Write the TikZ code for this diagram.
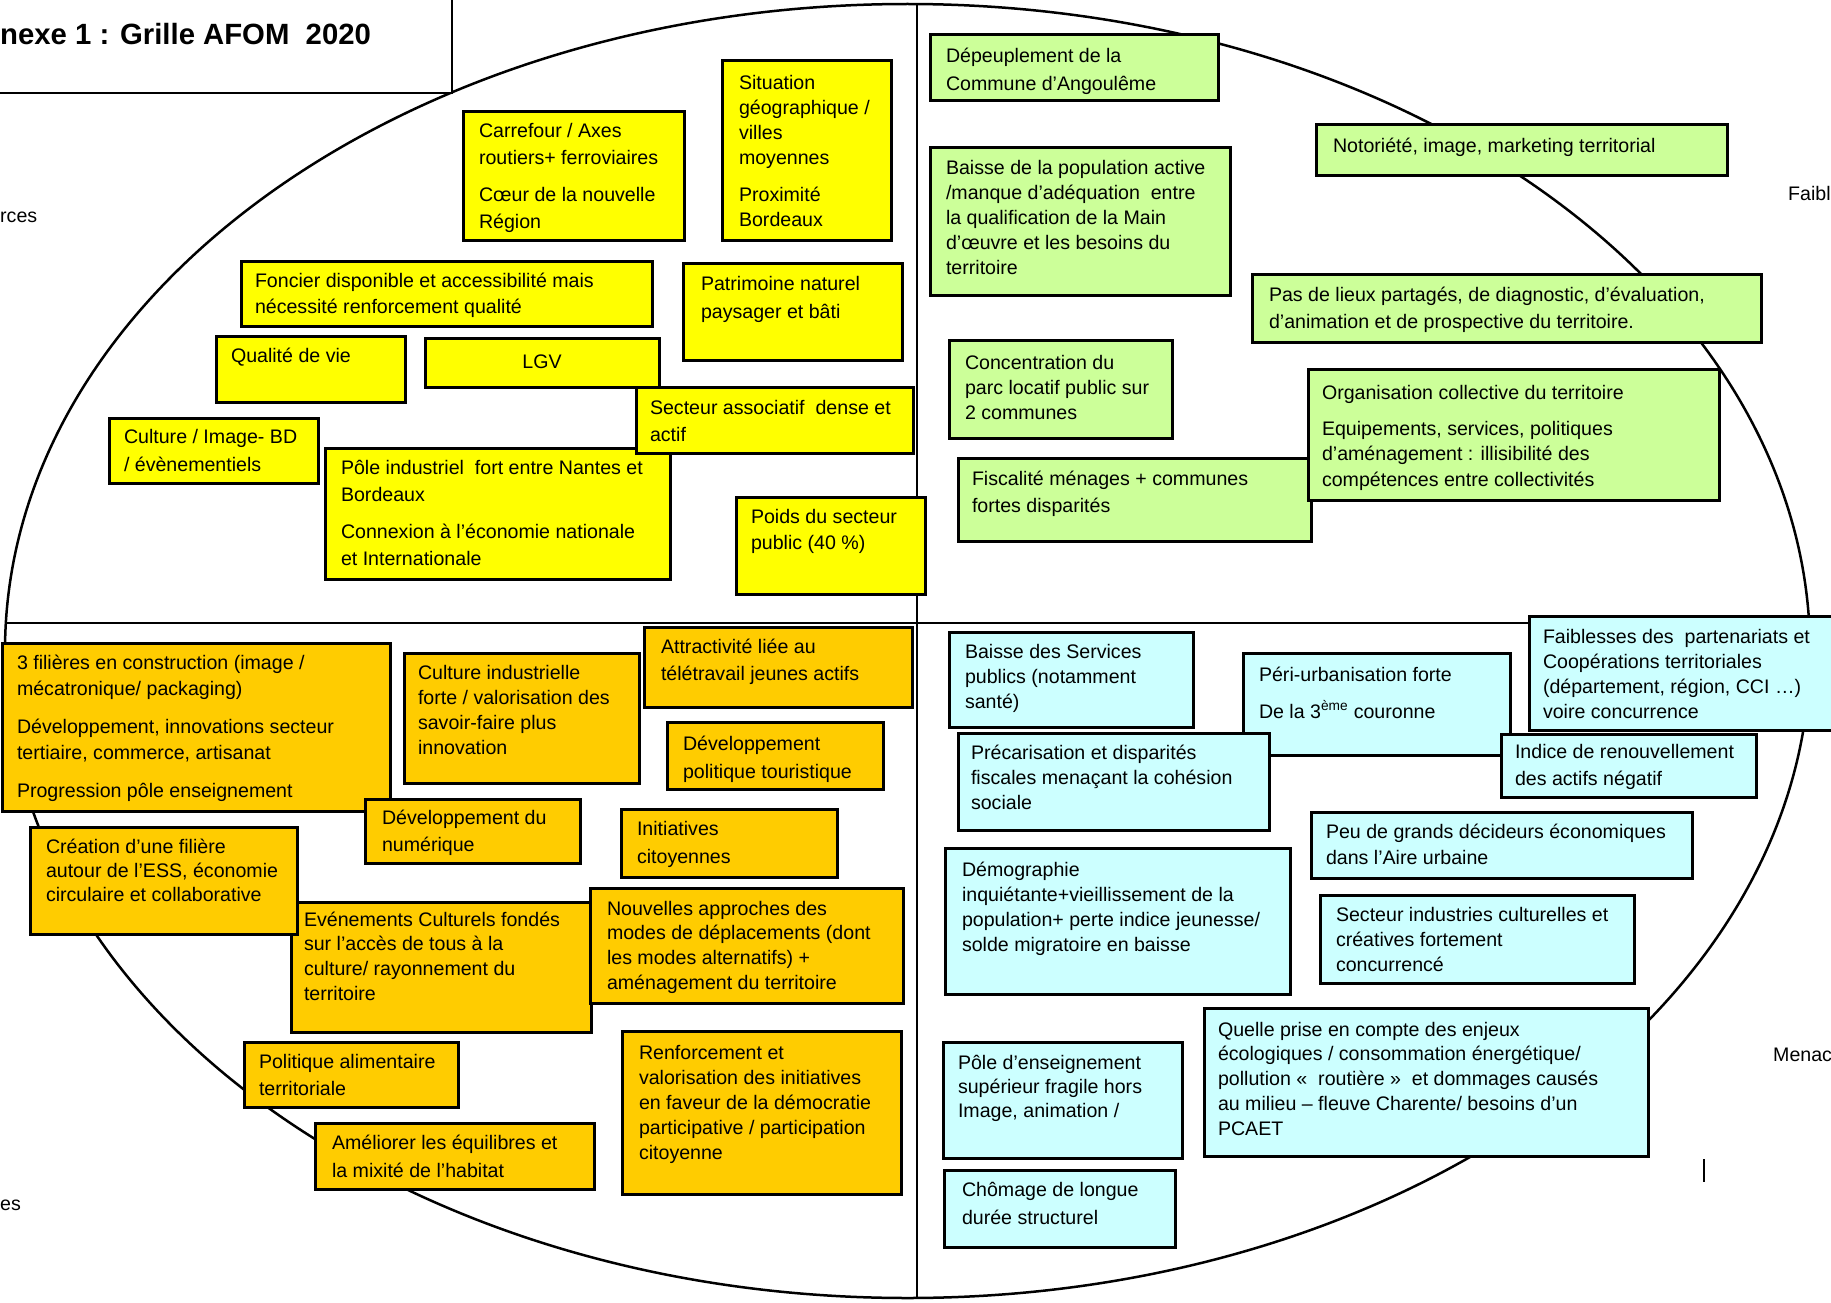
\documentclass[tikz,border=0pt]{standalone}
\usepackage{fontspec}
\setmainfont{Liberation Sans}
\usetikzlibrary{fit,shapes.geometric}
\definecolor{cyel}{HTML}{FFFF00}
\definecolor{corg}{HTML}{FFCC00}
\definecolor{cgrn}{HTML}{CCFF99}
\definecolor{ccyn}{HTML}{CCFFFF}
\newcommand\fl{\rule{0pt}{16pt}}
\tikzset{
  boxbase/.style={draw=black, line width=3pt, inner sep=0pt, outer sep=0pt},
  ybox/.style={boxbase, fill=cyel},
  obox/.style={boxbase, fill=corg},
  gbox/.style={boxbase, fill=cgrn},
  cbox/.style={boxbase, fill=ccyn},
  txt/.style={anchor=north west, yshift=16pt, inner sep=0pt, outer sep=0pt, align=left, text=black},
  side/.style={anchor=base west, inner sep=0pt, font=\fontsize{19.6}{24}\selectfont},
  frame/.style={line width=2.5pt},
}
\newcommand\bx[4]{\node[#2, fit={#3 #4}] (#1) {};}
\newcommand\tx[5]{\node[txt, font=\fontsize{19.6}{#4}\selectfont] (#1) at (#2,#3) {\fl #5};}
\begin{document}
\begin{tikzpicture}[x=1pt, y=-1pt]
\useasboundingbox (0,0) rectangle (1831,1303);
\clip (0,0) rectangle (1831,1303);
\fill[white] (0,0) rectangle (1831,1303);
% frame: ellipse and quadrant lines
\node[draw, ellipse, line width=2.5pt, minimum width=1805pt, minimum height=1294pt, inner sep=0pt] (E) at (907.5,651) {};
\coordinate (hL) at (5.9,623); \coordinate (hR) at (1809,623);
\coordinate (vT) at (917,4); \coordinate (vB) at (917,1298);
\draw[frame] (hL) -- (hR);
\draw[frame] (vT) -- (vB);
% title
\node[draw, line width=2.5pt, fill=white, inner sep=0pt, fit={(-20,-20) (452,93)}] (title) {};
\node[anchor=base west, inner sep=0pt, font=\fontsize{29.3}{35}\selectfont\bfseries] (ttl) at (0,45) {nexe 1 : Grille AFOM~ 2020};
% side labels
\node[side] (lF) at (0,222) {rces};
\node[side] (lW) at (1788,200) {Faibl};
\node[side] (lM) at (1773,1061) {Menac};
\node[side] (lO) at (0,1210) {es};
\coordinate (mk1) at (1704,1159); \coordinate (mk2) at (1704,1182);
\draw[line width=1.5pt] (mk1) -- (mk2);
% ===== Forces (yellow)
\bx{Y1}{ybox}{(463,112)}{(684,240)}
\tx{T1}{479}{137}{27}{Carrefour / Axes\\routiers+ ferroviaires\\[10pt]Cœur de la nouvelle\\Région}
\bx{Y2}{ybox}{(722,61)}{(891,240)}
\tx{T2}{739}{89}{25}{Situation\\géographique /\\villes\\moyennes\\[12pt]Proximité\\Bordeaux}
\bx{Y3}{ybox}{(241,261)}{(652,326)}
\tx{T3}{255}{287}{26}{Foncier disponible et accessibilité mais\\nécessité renforcement qualité}
\bx{Y4}{ybox}{(216,336)}{(405,402)}
\tx{T4}{231}{362}{26}{Qualité de vie}
\bx{Y5}{ybox}{(425,338)}{(659,387)}
\node[anchor=base, inner sep=0pt, font=\fontsize{19.6}{24}\selectfont] (T5) at (542,368) {LGV};
\bx{Y6}{ybox}{(109,418)}{(318,483)}
\tx{T6}{124}{443}{28}{Culture / Image- BD\\/ évènementiels}
\bx{Y7}{ybox}{(325,448)}{(670,579)}
\tx{T7}{341}{474}{27}{Pôle industriel~ fort entre Nantes et\\Bordeaux\\[10pt]Connexion à l’économie nationale\\et Internationale}
\bx{Y8}{ybox}{(683,263)}{(902,360)}
\tx{T8}{701}{290}{28}{Patrimoine naturel\\paysager et bâti}
\bx{Y9}{ybox}{(636,387)}{(913,453)}
\tx{T9}{650}{414}{27}{Secteur associatif~ dense et\\actif}
\bx{Y10}{ybox}{(736,497)}{(925,594)}
\tx{T10}{751}{523}{26}{Poids du secteur\\public (40 \%)}
% ===== Faiblesses (green)
\bx{G1}{gbox}{(930,35)}{(1218,101)}
\tx{U1}{946}{63}{28}{Dépeuplement de la\\Commune d’Angoulême}
\bx{G2}{gbox}{(930,148)}{(1230,295)}
\tx{U2}{946}{174}{25}{Baisse de la population active\\/manque d’adéquation~ entre\\la qualification de la Main\\d’œuvre et les besoins du\\territoire}
\bx{G3}{gbox}{(1316,125)}{(1727,175)}
\tx{U3}{1333}{153}{26}{Notoriété, image, marketing territorial}
\bx{G4}{gbox}{(1252,274)}{(1761,342)}
\tx{U4}{1269}{301}{27}{Pas de lieux partagés, de diagnostic, d’évaluation,\\d’animation et de prospective du territoire.}
\bx{G5}{gbox}{(949,340)}{(1172,438)}
\tx{U5}{965}{369}{25}{Concentration du\\parc locatif public sur\\2 communes}
\bx{G6}{gbox}{(958,458)}{(1311,541)}
\tx{U6}{972}{485}{27}{Fiscalité ménages + communes\\fortes disparités}
\bx{G7}{gbox}{(1308,369)}{(1719,500)}
\tx{U7}{1322}{399}{25.5}{Organisation collective du territoire\\[10.5pt]Equipements, services, politiques\\d’aménagement : illisibilité des\\compétences entre collectivités}
% ===== Menaces (cyan)
\bx{C1}{cbox}{(949,632)}{(1193,727)}
\tx{V1}{965}{658}{25}{Baisse des Services\\publics (notamment\\santé)}
\bx{C2}{cbox}{(1243,653)}{(1510,755)}
\tx{V2}{1259}{681}{26}{Péri-urbanisation forte\\[11pt]De la 3\textsuperscript{ème} couronne}
\bx{C3}{cbox}{(1529,616)}{(1845,730)}
\tx{V3}{1543}{643}{25.3}{Faiblesses des~ partenariats et\\Coopérations territoriales\\(département, région, CCI …)\\voire concurrence}
\bx{C4}{cbox}{(958,733)}{(1269,830)}
\tx{V4}{971}{759}{25}{Précarisation et disparités\\fiscales menaçant la cohésion\\sociale}
\bx{C5}{cbox}{(1501,734)}{(1756,797)}
\tx{V5}{1515}{758}{27}{Indice de renouvellement\\des actifs négatif}
\bx{C6}{cbox}{(1311,812)}{(1692,878)}
\tx{V6}{1326}{838}{26}{Peu de grands décideurs économiques\\dans l’Aire urbaine}
\bx{C7}{cbox}{(945,848)}{(1290,994)}
\tx{V7}{962}{876}{25}{Démographie\\inquiétante+vieillissement de la\\population+ perte indice jeunesse/\\solde migratoire en baisse}
\bx{C8}{cbox}{(1320,895)}{(1634,983)}
\tx{V8}{1336}{921}{25}{Secteur industries culturelles et\\créatives fortement\\concurrencé}
\bx{C9}{cbox}{(1204,1008)}{(1648,1156)}
\tx{V9}{1218}{1036}{24.8}{Quelle prise en compte des enjeux\\écologiques / consommation énergétique/\\pollution «~ routière »~ et dommages causés\\au milieu – fleuve Charente/ besoins d’un\\PCAET}
\bx{C10}{cbox}{(943,1042)}{(1182,1158)}
\tx{V10}{958}{1069}{24}{Pôle d’enseignement\\supérieur fragile hors\\Image, animation /}
\bx{C11}{cbox}{(944,1170)}{(1175,1247)}
\tx{V11}{962}{1196}{28}{Chômage de longue\\durée structurel}
% ===== Opportunites (orange)
\bx{O1}{obox}{(2,643)}{(390,811)}
\tx{W1}{17}{669}{26}{3 filières en construction (image /\\mécatronique/ packaging)\\[12pt]Développement, innovations secteur\\tertiaire, commerce, artisanat\\[12pt]Progression pôle enseignement}
\bx{O2}{obox}{(404,653)}{(639,783)}
\tx{W2}{418}{679}{25}{Culture industrielle\\forte / valorisation des\\savoir-faire plus\\innovation}
\bx{O3}{obox}{(365,799)}{(580,863)}
\tx{W3}{382}{824}{27}{Développement du\\numérique}
\bx{O5}{obox}{(291,902)}{(591,1032)}
\tx{W5}{304}{926}{24.7}{Evénements Culturels fondés\\sur l’accès de tous à la\\culture/ rayonnement du\\territoire}
\bx{O4}{obox}{(30,827)}{(297,934)}
\tx{W4}{46}{853}{24}{Création d’une filière\\autour de l’ESS, économie\\circulaire et collaborative}
\bx{O6}{obox}{(644,627)}{(912,707)}
\tx{W6}{661}{653}{27}{Attractivité liée au\\télétravail jeunes actifs}
\bx{O7}{obox}{(667,722)}{(883,789)}
\tx{W7}{683}{750}{28}{Développement\\politique touristique}
\bx{O8}{obox}{(621,809)}{(837,877)}
\tx{W8}{637}{835}{28}{Initiatives\\citoyennes}
\bx{O9}{obox}{(590,888)}{(903,1003)}
\tx{W9}{607}{915}{24.7}{Nouvelles approches des\\modes de déplacements (dont\\les modes alternatifs) +\\aménagement du territoire}
\bx{O10}{obox}{(244,1042)}{(458,1107)}
\tx{W10}{259}{1068}{27}{Politique alimentaire\\territoriale}
\bx{O11}{obox}{(315,1123)}{(594,1189)}
\tx{W11}{332}{1149}{28}{Améliorer les équilibres et\\la mixité de l’habitat}
\bx{O12}{obox}{(622,1031)}{(901,1194)}
\tx{W12}{639}{1059}{25}{Renforcement et\\valorisation des initiatives\\en faveur de la démocratie\\participative / participation\\citoyenne}
\end{tikzpicture}
\end{document}
